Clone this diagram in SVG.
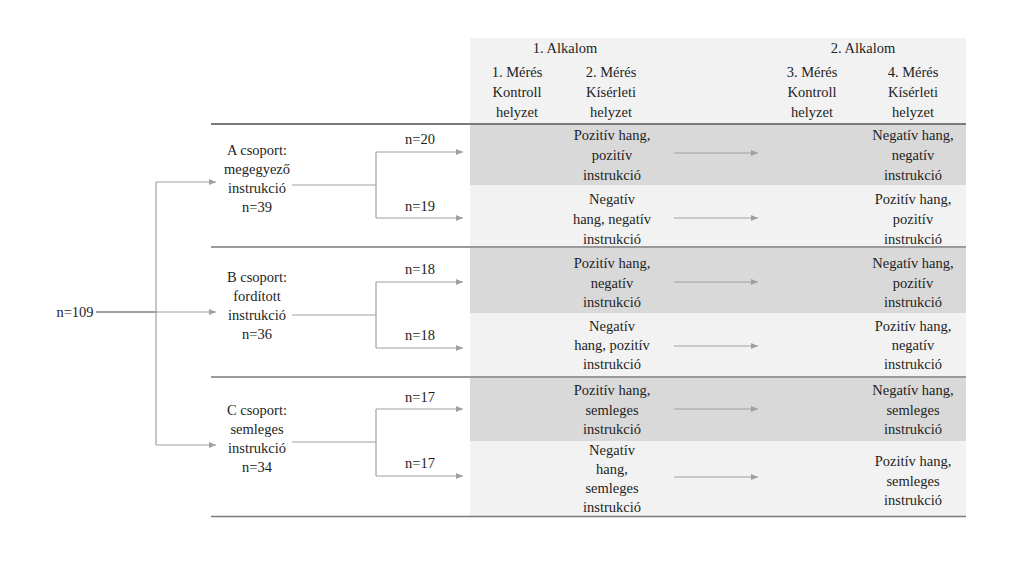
<svg xmlns="http://www.w3.org/2000/svg" width="1024" height="576" viewBox="0 0 1024 576">
<defs>
<style>
text{font-family:'Liberation Serif','Tinos','Times New Roman','DejaVu Serif',serif;font-size:14.5px;fill:#1e1e1e;text-anchor:middle}
.dark{fill:#d9d9d9}
.light{fill:#f2f2f2}
.sep{stroke:#7a7a7a;stroke-width:1.5;fill:none}
.con{stroke:#a0a0a0;stroke-width:1.2;fill:none}
.arr{stroke:#a0a0a0;stroke-width:1.2;fill:none;marker-end:url(#ah)}
</style>
<marker id="ah" markerUnits="userSpaceOnUse" markerWidth="8" markerHeight="6" refX="7" refY="3" orient="auto">
<path d="M0,0 L7,3 L0,6 Z" fill="#a0a0a0"/>
</marker>
</defs>
<rect width="1024" height="576" fill="#ffffff"/>
<g id="backgrounds">
<rect class="light" x="470" y="38" width="496" height="86"/>
<rect class="dark" x="470" y="125" width="496" height="60"/>
<rect class="light" x="470" y="185" width="496" height="62"/>
<rect class="dark" x="470" y="248" width="496" height="65"/>
<rect class="light" x="470" y="313" width="496" height="64"/>
<rect class="dark" x="470" y="378" width="496" height="63"/>
<rect class="light" x="470" y="441" width="496" height="75"/>
</g>
<g id="separators">
<line x1="211" y1="124" x2="966" y2="124" stroke="#7a7a7a" stroke-width="2"/>
<line class="sep" x1="211" y1="247" x2="966" y2="247"/>
<line class="sep" x1="211" y1="377" x2="966" y2="377"/>
<line class="sep" x1="211" y1="516.5" x2="966" y2="516.5"/>
</g>
<g id="header" font-family="Liberation Serif, DejaVu Serif, serif">
<text x="565" y="53">1. Alkalom</text>
<text x="863" y="53">2. Alkalom</text>
<text x="517" y="77">1. Mérés</text>
<text x="517" y="97">Kontroll</text>
<text x="517" y="117">helyzet</text>
<text x="611" y="77">2. Mérés</text>
<text x="611" y="97">Kísérleti</text>
<text x="611" y="117">helyzet</text>
<text x="812" y="77">3. Mérés</text>
<text x="812" y="97">Kontroll</text>
<text x="812" y="117">helyzet</text>
<text x="913" y="77">4. Mérés</text>
<text x="913" y="97">Kísérleti</text>
<text x="913" y="117">helyzet</text>
</g>
<g id="connectors">
<line x1="96" y1="312" x2="157" y2="312" stroke="#a0a0a0" stroke-width="2"/>
<line class="con" x1="156" y1="182" x2="156" y2="445"/>
<line class="arr" x1="156" y1="182" x2="216" y2="182"/>
<line class="arr" x1="156" y1="312" x2="216" y2="312"/>
<line class="arr" x1="156" y1="445" x2="216" y2="445"/>
<line class="con" x1="292" y1="185" x2="376" y2="185"/>
<polyline class="con" points="376,152 376,218"/>
<line class="arr" x1="376" y1="152" x2="463" y2="152"/>
<line class="arr" x1="376" y1="218" x2="463" y2="218"/>
<line class="con" x1="292" y1="315" x2="376" y2="315"/>
<polyline class="con" points="376,282 376,348"/>
<line class="arr" x1="376" y1="282" x2="463" y2="282"/>
<line class="arr" x1="376" y1="348" x2="463" y2="348"/>
<line class="con" x1="292" y1="442" x2="376" y2="442"/>
<polyline class="con" points="376,409 376,476"/>
<line class="arr" x1="376" y1="409" x2="463" y2="409"/>
<line class="arr" x1="376" y1="476" x2="463" y2="476"/>
<line class="arr" x1="674" y1="153" x2="758" y2="153"/>
<line class="arr" x1="674" y1="218" x2="758" y2="218"/>
<line class="arr" x1="674" y1="282" x2="758" y2="282"/>
<line class="arr" x1="674" y1="346" x2="758" y2="346"/>
<line class="arr" x1="674" y1="409" x2="758" y2="409"/>
<line class="arr" x1="674" y1="477" x2="758" y2="477"/>
</g>
<g id="n-total"><text x="75" y="317">n=109</text></g>
<g id="group-a">
<text x="257" y="155">A csoport:</text>
<text x="257" y="174">megegyező</text>
<text x="257" y="193">instrukció</text>
<text x="257" y="212">n=39</text>
</g>
<g id="group-b">
<text x="257" y="282">B csoport:</text>
<text x="257" y="301">fordított</text>
<text x="257" y="320">instrukció</text>
<text x="257" y="339">n=36</text>
</g>
<g id="group-c">
<text x="257" y="415">C csoport:</text>
<text x="257" y="434">semleges</text>
<text x="257" y="453">instrukció</text>
<text x="257" y="472">n=34</text>
</g>
<g id="sub-labels">
<text x="420" y="144">n=20</text>
<text x="420" y="211">n=19</text>
<text x="420" y="274">n=18</text>
<text x="420" y="340">n=18</text>
<text x="420" y="402">n=17</text>
<text x="420" y="468">n=17</text>
</g>
<g id="a1-left"><text x="612" y="140">Pozitív hang,</text><text x="612" y="160">pozitív</text><text x="612" y="180">instrukció</text></g>
<g id="a1-right"><text x="913" y="140">Negatív hang,</text><text x="913" y="160">negatív</text><text x="913" y="180">instrukció</text></g>
<g id="a2-left"><text x="612" y="204">Negatív</text><text x="612" y="224">hang, negatív</text><text x="612" y="244">instrukció</text></g>
<g id="a2-right"><text x="913" y="204">Pozitív hang,</text><text x="913" y="224">pozitív</text><text x="913" y="244">instrukció</text></g>
<g id="b1-left"><text x="612" y="268">Pozitív hang,</text><text x="612" y="288">negatív</text><text x="612" y="307">instrukció</text></g>
<g id="b1-right"><text x="913" y="268">Negatív hang,</text><text x="913" y="288">pozitív</text><text x="913" y="307">instrukció</text></g>
<g id="b2-left"><text x="612" y="331">Negatív</text><text x="612" y="350">hang, pozitív</text><text x="612" y="369">instrukció</text></g>
<g id="b2-right"><text x="913" y="331">Pozitív hang,</text><text x="913" y="350">negatív</text><text x="913" y="369">instrukció</text></g>
<g id="c1-left"><text x="612" y="395">Pozitív hang,</text><text x="612" y="415">semleges</text><text x="612" y="434">instrukció</text></g>
<g id="c1-right"><text x="913" y="395">Negatív hang,</text><text x="913" y="415">semleges</text><text x="913" y="434">instrukció</text></g>
<g id="c2-left"><text x="612" y="455">Negatív</text><text x="612" y="474">hang,</text><text x="612" y="493">semleges</text><text x="612" y="512">instrukció</text></g>
<g id="c2-right"><text x="913" y="466">Pozitív hang,</text><text x="913" y="486">semleges</text><text x="913" y="505">instrukció</text></g>
</svg>
